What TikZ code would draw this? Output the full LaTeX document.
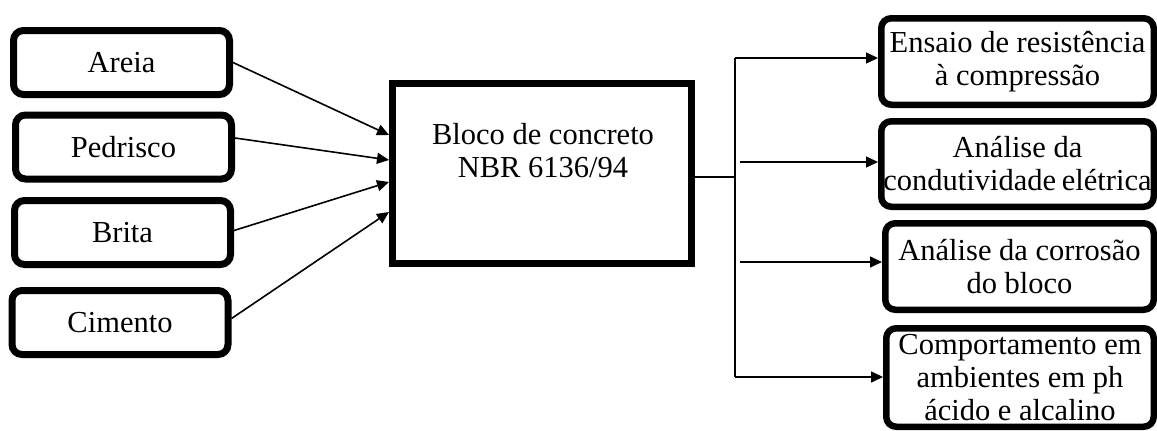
\documentclass[tikz,border=0pt]{standalone}
\usepackage{fontspec}
\setmainfont{Liberation Serif}
\usetikzlibrary{arrows.meta,calc}
\begin{document}
\begin{tikzpicture}[x=1pt,y=-1pt,
  txt/.style={font=\fontsize{30.5}{33}\selectfont, align=center, inner sep=0pt},
  inbox/.style={draw, line width=7pt, rounded corners=10pt, minimum width=216pt, minimum height=64pt, txt},
  outbox/.style={draw, line width=6.5pt, rounded corners=10pt, txt},
  mainbox/.style={draw, line width=7pt, minimum width=299pt, minimum height=180pt},
  conn/.style={line width=1.6pt},
  arr/.style={conn, -{Triangle[length=12pt,width=11pt]}}]
\useasboundingbox (0,0) rectangle (1157,431);
% inputs
\node[inbox] (areia) at (121.5,62.5) {Areia};
\node[inbox] (pedr) at (123.5,147) {Pedrisco};
\node[inbox] (brita) at (122.5,232.5) {Brita};
\node[inbox] (cim) at (120,322.5) {Cimento};
% main block
\node[mainbox] (cb) at (542,173.5) {};
\node[txt] (cbt) at (543,151) {Bloco de concreto\\NBR 6136/94};
% outputs
\node[outbox, minimum width=272.5pt, minimum height=86.5pt] (r1) at (1017.5,61.5) {Ensaio de resistência\\à compressão};
\node[outbox, minimum width=272.5pt, minimum height=85.5pt] (r2) at (1017.5,164) {Análise da\\condutividade\hspace{-2pt} elétrica};
\node[outbox, minimum width=268.5pt, minimum height=86.5pt] (r3) at (1019.5,266.5) {Análise da corrosão\\do bloco};
\node[outbox, minimum width=267.5pt, minimum height=98.5pt] (r4) at (1020,377.5) {Comportamento em\\ambientes em ph\\ácido e alcalino};
% input arrows
\draw[arr] (areia.east) -- ($(cb.west)+(0,-38.5)$);
\draw[arr] ($(pedr.east)+(0,-9)$) -- ($(cb.west)+(0,-13.5)$);
\draw[arr] ($(brita.east)+(0,-2)$) -- ($(cb.west)+(0,8.5)$);
\draw[arr] ($(cim.east)+(0,-4)$) -- ($(cb.west)+(0,38.5)$);
% output tree
\coordinate (jt) at (735,177);
\coordinate (t1) at (735,58);
\coordinate (t2) at (740,162);
\coordinate (t3) at (740,262);
\coordinate (t4) at (735,377);
\draw[conn] ($(cb.east)+(0,3.5)$) -- (jt);
\draw[conn] (t1) -- (t4);
\draw[arr] (t1) -- (r1.west |- t1);
\draw[arr] (t2) -- (r2.west |- t2);
\draw[arr] (t3) -- (r3.west |- t3);
\draw[arr] (t4) -- (r4.west |- t4);
\end{tikzpicture}
\end{document}
